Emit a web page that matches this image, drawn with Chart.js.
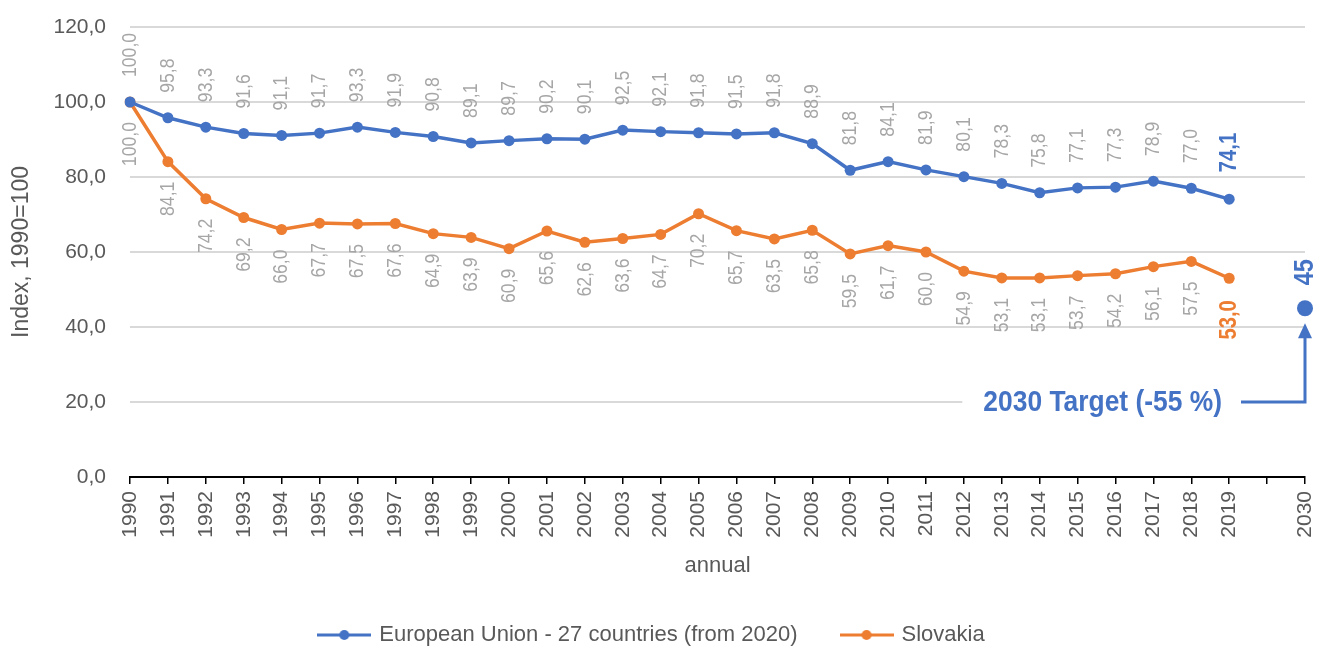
<!DOCTYPE html>
<html>
<head>
<meta charset="utf-8">
<script src="https://cdn.jsdelivr.net/npm/chart.js@4.4.1/dist/chart.umd.min.js"></script>
<style>
  body { margin: 0; background: #fff; }
  #wrap { width: 1318px; height: 650px; position: relative; }
</style>
</head>
<body>
<div id="wrap"><canvas id="ghgChart"></canvas></div>
<script>
// years on the axis; the blank slot keeps a gap before the 2030 target
const years = ['1990', '1991', '1992', '1993', '1994', '1995', '1996', '1997', '1998', '1999',
               '2000', '2001', '2002', '2003', '2004', '2005', '2006', '2007', '2008', '2009',
               '2010', '2011', '2012', '2013', '2014', '2015', '2016', '2017', '2018', '2019',
               '', '2030'];

const euValues = [100.0, 95.8, 93.3, 91.6, 91.1, 91.7, 93.3, 91.9, 90.8, 89.1,
                  89.7, 90.2, 90.1, 92.5, 92.1, 91.8, 91.5, 91.8, 88.9, 81.8,
                  84.1, 81.9, 80.1, 78.3, 75.8, 77.1, 77.3, 78.9, 77.0, 74.1];

const skValues = [100.0, 84.1, 74.2, 69.2, 66.0, 67.7, 67.5, 67.6, 64.9, 63.9,
                  60.9, 65.6, 62.6, 63.6, 64.7, 70.2, 65.7, 63.5, 65.8, 59.5,
                  61.7, 60.0, 54.9, 53.1, 53.1, 53.7, 54.2, 56.1, 57.5, 53.0];

const targetYear = '2030';
const targetValue = 45;
const targetText = '2030 Target (-55 %)';
const targetBaseValue = 20;   // level of the arrow's horizontal leg

const yMin = 0, yMax = 120, yStep = 20;

const BLUE = '#4472c4';
const ORANGE = '#ed7d31';
const GREY_LABEL = '#a6a6a6';
const AXIS_TEXT = '#595959';
const FONT = '"Liberation Sans", Arial, sans-serif';

const pad = arr => arr.concat(new Array(years.length - arr.length).fill(null));
const targetData = years.map(y => (y === targetYear ? targetValue : null));
const fmt = v => v.toFixed(1).replace('.', ',');

// little line-with-dot swatch for the legend
function legendSwatch(color) {
  const c = document.createElement('canvas');
  c.width = 54; c.height = 12;
  const g = c.getContext('2d');
  g.strokeStyle = color; g.lineWidth = 3;
  g.beginPath(); g.moveTo(0, 6); g.lineTo(54, 6); g.stroke();
  g.fillStyle = color;
  g.beginPath(); g.arc(27, 6, 5, 0, Math.PI * 2); g.fill();
  return c;
}
const swatches = [legendSwatch(BLUE), legendSwatch(ORANGE)];

// text drawn a bit condensed, like a narrow face
function drawNarrow(ctx, text, x, y, rot, align, font, color, squeeze) {
  ctx.save();
  ctx.translate(x, y);
  ctx.rotate(rot);
  ctx.scale(squeeze, 1);
  ctx.font = font;
  ctx.fillStyle = color;
  ctx.textAlign = align;
  ctx.textBaseline = 'middle';
  ctx.fillText(text, 0, 0);
  ctx.restore();
}

// value labels written vertically next to each point
const labelStyles = [
  { side: 'above', gap: 25, last: { color: BLUE, size: 24, gap: 27 } },
  { side: 'below', gap: 20, last: { color: ORANGE, size: 24, gap: 22 } },
  { side: 'above', gap: 23, target: { color: BLUE, size: 28 } }
];

const pointLabels = {
  id: 'pointLabels',
  afterDatasetsDraw(chart) {
    const ctx = chart.ctx;
    chart.data.datasets.forEach((ds, i) => {
      const st = labelStyles[i];
      const meta = chart.getDatasetMeta(i);
      const lastIdx = ds.data.reduce((a, v, j) => (v != null ? j : a), -1);
      meta.data.forEach((pt, j) => {
        const v = ds.data[j];
        if (v == null) return;
        let text = fmt(v), color = GREY_LABEL, font = '21px ' + FONT, gap = st.gap;
        if (st.target) {
          text = String(v); color = st.target.color; font = 'bold ' + st.target.size + 'px ' + FONT;
        } else if (j === lastIdx) {
          color = st.last.color; font = 'bold ' + st.last.size + 'px ' + FONT; gap = st.last.gap;
        }
        if (st.side === 'above') {
          drawNarrow(ctx, text, pt.x, pt.y - gap, -Math.PI / 2, 'left', font, color, 0.84);
        } else {
          drawNarrow(ctx, text, pt.x, pt.y + gap, -Math.PI / 2, 'right', font, color, 0.84);
        }
      });
    });
  }
};

// target caption with an elbow arrow pointing up at the 2030 dot
const targetArrow = {
  id: 'targetArrow',
  beforeDatasetsDraw(chart) {
    const ctx = chart.ctx;
    const xs = chart.scales.x, ys = chart.scales.y;
    const px = xs.getPixelForValue(years.indexOf(targetYear));
    const py = ys.getPixelForValue(targetValue);
    const ly = ys.getPixelForValue(targetBaseValue);
    const font = 'bold 30px ' + FONT;
    const squeeze = 0.88;
    ctx.save();
    ctx.font = font;
    const w = ctx.measureText(targetText).width * squeeze;
    const textRight = px - 83;
    const textLeft = textRight - w;
    ctx.fillStyle = '#fff';
    ctx.fillRect(textLeft - 21, ly - 20, (px - 64) - (textLeft - 21), 40);
    ctx.restore();
    drawNarrow(ctx, targetText, textRight, ly + 1, 0, 'right', font, BLUE, squeeze);

    const tipY = py + 15;
    ctx.save();
    ctx.strokeStyle = BLUE;
    ctx.fillStyle = BLUE;
    ctx.lineWidth = 3;
    ctx.lineJoin = 'miter';
    ctx.beginPath();
    ctx.moveTo(px - 64, ly);
    ctx.lineTo(px, ly);
    ctx.lineTo(px, tipY + 12);
    ctx.stroke();
    ctx.beginPath();
    ctx.moveTo(px, tipY);
    ctx.lineTo(px - 7, tipY + 15);
    ctx.lineTo(px + 7, tipY + 15);
    ctx.closePath();
    ctx.fill();
    ctx.restore();
  }
};

new Chart(document.getElementById('ghgChart'), {
  type: 'line',
  data: {
    labels: years,
    datasets: [
      {
        label: 'European Union - 27 countries (from 2020)',
        data: pad(euValues),
        borderColor: BLUE, backgroundColor: BLUE,
        borderWidth: 3.5, pointRadius: 5.5, pointHoverRadius: 5.5,
        pointBorderWidth: 0, tension: 0
      },
      {
        label: 'Slovakia',
        data: pad(skValues),
        borderColor: ORANGE, backgroundColor: ORANGE,
        borderWidth: 3.5, pointRadius: 5.5, pointHoverRadius: 5.5,
        pointBorderWidth: 0, tension: 0
      },
      {
        label: 'Target',
        data: targetData,
        borderColor: BLUE, backgroundColor: BLUE,
        showLine: false, pointRadius: 8, pointHoverRadius: 8, pointBorderWidth: 0
      }
    ]
  },
  options: {
    responsive: true,
    maintainAspectRatio: false,
    animation: false,
    layout: { padding: { left: 0, right: 13, top: 27, bottom: -6 } },
    plugins: {
      tooltip: { enabled: false },
      legend: {
        position: 'bottom',
        labels: {
          usePointStyle: true,
          pointStyleWidth: 48,
          padding: 45,
          color: AXIS_TEXT,
          font: { family: FONT, size: 22 },
          filter: item => item.datasetIndex < 2,
          generateLabels(chart) {
            const items = Chart.defaults.plugins.legend.labels.generateLabels(chart);
            items.forEach(it => { if (swatches[it.datasetIndex]) it.pointStyle = swatches[it.datasetIndex]; });
            return items;
          }
        }
      }
    },
    scales: {
      x: {
        type: 'category',
        offset: false,
        afterFit: s => { s.height = 102; s.paddingLeft = 0; s.paddingRight = 0; },
        grid: { display: true, drawOnChartArea: false, drawTicks: true, tickLength: 7, color: '#000', lineWidth: 1.5 },
        border: { display: true, color: '#000', width: 2 },
        ticks: {
          autoSkip: false, minRotation: 90, maxRotation: 90, padding: 7,
          color: AXIS_TEXT, font: { family: FONT, size: 21 }
        },
        title: {
          display: true, text: 'annual', color: AXIS_TEXT,
          font: { family: FONT, size: 22 }, padding: { top: 0, bottom: 0 }
        }
      },
      y: {
        min: yMin, max: yMax,
        afterFit: s => { s.width = 130; s.paddingTop = 0; s.paddingBottom = 0; },
        grid: { color: '#d9d9d9', lineWidth: 2, drawTicks: false },
        border: { display: false },
        ticks: {
          stepSize: yStep, padding: 24, color: AXIS_TEXT,
          font: { family: FONT, size: 21 },
          callback: v => fmt(v)
        },
        title: {
          display: true, text: 'Index, 1990=100', color: AXIS_TEXT,
          font: { family: FONT, size: 23 }, padding: { top: 8, bottom: 0 }
        }
      }
    }
  },
  plugins: [targetArrow, pointLabels]
});
</script>
</body>
</html>
